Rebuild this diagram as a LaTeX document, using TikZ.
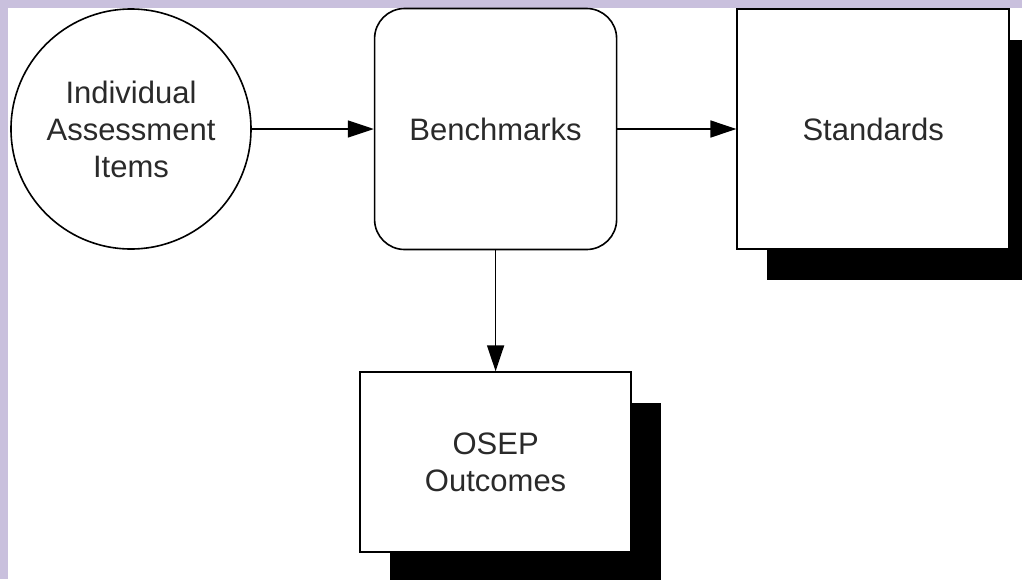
\documentclass[tikz,border=0pt]{standalone}
\usepackage{fontspec}
\setmainfont{Liberation Sans}
\usepackage{tikz}
\usetikzlibrary{arrows.meta,positioning,shadows}
\definecolor{lavender}{HTML}{C9C0DD}
\definecolor{ink}{HTML}{2A2A2A}
\tikzset{
  base/.style={draw=black,fill=white,line width=1.6pt,align=center,
    text=ink,font=\fontsize{31}{37}\selectfont,inner sep=0pt},
  item/.style={base,circle,minimum size=240pt},
  bench/.style={base,rectangle,rounded corners=30pt,minimum width=242pt,minimum height=241pt},
  goal/.style={base,rectangle,
    drop shadow={shadow xshift=30pt,shadow yshift=-31pt,opacity=1,fill=black}},
  arrow/.style={-{Triangle[length=26pt,width=17pt]},line width=1.6pt,draw=black}
}
\begin{document}
\begin{tikzpicture}[x=1pt,y=-1pt]
\useasboundingbox (0,0) rectangle (1022,579);
\fill[lavender] (0,0) rectangle (1022,579);
\fill[white] (8,8) rectangle (1022,579);
\node[item] (items) at (131,129) {Individual\\Assessment\\Items};
\node[bench,right=122pt of items] (benchmarks) {Benchmarks};
\node[goal,minimum width=272pt,minimum height=240pt,right=119pt of benchmarks] (standards) {Standards};
\node[goal,minimum width=271pt,minimum height=180pt,below=121pt of benchmarks] (osep) {OSEP\\Outcomes};
\draw[arrow] (items)--(benchmarks); \draw[arrow] (benchmarks)--(standards); \draw[arrow] (benchmarks)--(osep);
\end{tikzpicture}
\end{document}
